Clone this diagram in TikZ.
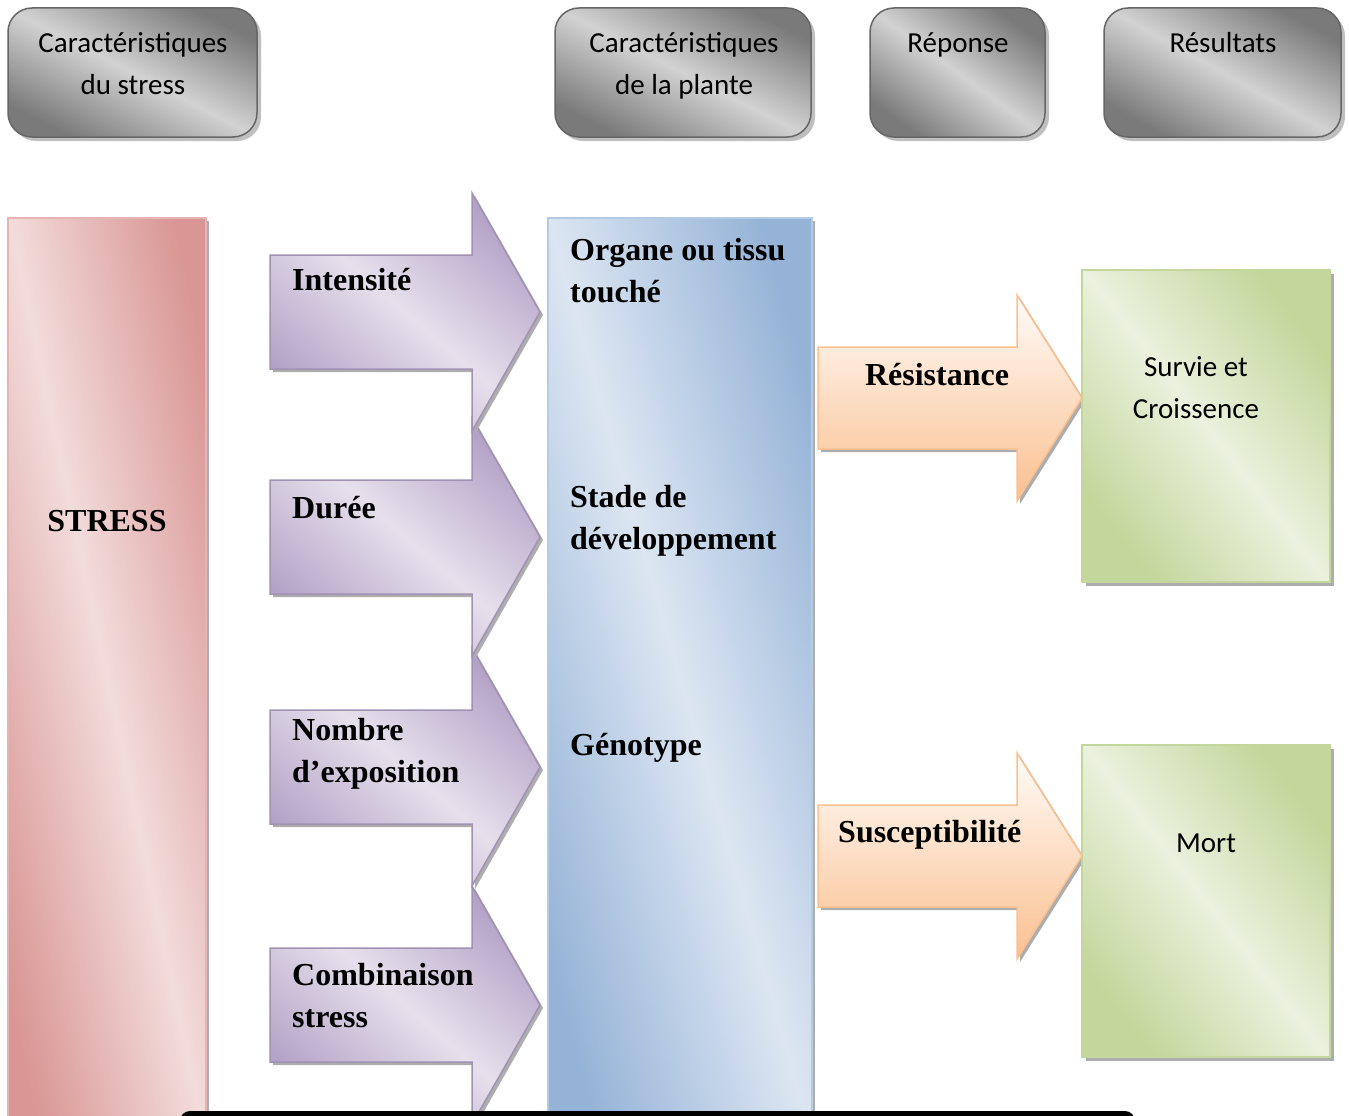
\documentclass[tikz,border=0pt]{standalone}
\usepackage{fontspec}
\setmainfont{Liberation Serif}
\newfontfamily\calibri{Carlito}
\usetikzlibrary{positioning}

\definecolor{grayD}{HTML}{7A7A7A}
\definecolor{grayL}{HTML}{D2D2D2}
\definecolor{pinkD}{HTML}{D99694}
\definecolor{pinkL}{HTML}{F2DCDB}
\definecolor{purpD}{HTML}{B3A2C7}
\definecolor{purpL}{HTML}{E6E0EC}
\definecolor{blueD}{HTML}{95B3D7}
\definecolor{blueL}{HTML}{DCE6F2}
\definecolor{orngD}{HTML}{FAC090}
\definecolor{orngL}{HTML}{FFFBF8}
\definecolor{grenD}{HTML}{C3D69B}
\definecolor{grenL}{HTML}{EBF1DE}

% dark - light - dark across the diagonal
\pgfdeclarehorizontalshading{grayshade}{100bp}{color(0bp)=(grayD); color(25bp)=(grayD); color(50bp)=(grayL); color(75bp)=(grayD); color(100bp)=(grayD)}
\pgfdeclarehorizontalshading{pinkshade}{100bp}{color(0bp)=(pinkD); color(25bp)=(pinkD); color(50bp)=(pinkL); color(75bp)=(pinkD); color(100bp)=(pinkD)}
\pgfdeclarehorizontalshading{purpshade}{100bp}{color(0bp)=(purpD); color(25bp)=(purpD); color(50bp)=(purpL); color(75bp)=(purpD); color(100bp)=(purpD)}
\pgfdeclarehorizontalshading{blueshade}{100bp}{color(0bp)=(blueD); color(25bp)=(blueD); color(50bp)=(blueL); color(75bp)=(blueD); color(100bp)=(blueD)}
\pgfdeclarehorizontalshading{grenshade}{100bp}{color(0bp)=(grenD); color(25bp)=(grenD); color(50bp)=(grenL); color(75bp)=(grenD); color(100bp)=(grenD)}

\begin{document}
\begin{tikzpicture}[x=1pt, y=-1pt,
    hdrbox/.style={draw=black!60, line width=1.5, rounded corners=24, shading=grayshade},
    hdrshadow/.style={fill=black!25, rounded corners=24},
    stressbox/.style={draw=pinkD!70, line width=1.5, shading=pinkshade, shading angle=12},
    purparrow/.style={draw=purpD!90!black, line width=1.5, shading=purpshade, shading angle=49},
    bluebox/.style={draw=blueD!70, line width=1.5, shading=blueshade, shading angle=16},
    orngarrow/.style={draw=orngD, line width=1.5, top color=orngL, bottom color=orngD},
    grenbox/.style={draw=grenD, line width=1.5, shading=grenshade, shading angle=38},
    boxshadow/.style={fill=black!32},
    hdrtext/.style={font=\calibri\fontsize{29}{42}\selectfont, align=center, inner sep=0},
    restext/.style={font=\calibri\fontsize{29}{42}\selectfont, align=center, inner sep=0},
    boldtext/.style={font=\fontsize{32}{42}\selectfont\bfseries, align=left, inner sep=0}
]
\useasboundingbox (0,0) rectangle (1349,1116);

% header boxes
\foreach \xa/\xb/\ang in {8/257/63, 555/811/63, 870/1045/54, 1104/1341/61} {
    \fill[hdrshadow] (\xa+4,12) rectangle (\xb+4,141);
    \shadedraw[hdrbox, shading angle=\ang] (\xa,8) rectangle (\xb,137);
}
\node[hdrtext] (tstress) at (133,64) {Caractéristiques\\du stress};
\node[hdrtext] (tplante) at (684,66) {Caractéristiques\\de la plante};
\node[hdrtext] (trep) at (958,45) {Réponse};
\node[hdrtext] (tres) at (1223,43) {Résultats};

% stress column
\fill[boxshadow] (11,221) rectangle (209,1140);
\shadedraw[stressbox] (8,218) rectangle (206,1140);
\node[boldtext] (stress) at (107,521) {STRESS};

% stress characteristics (bottom one first, so the upper heads lie on top)
\foreach \cy in {1005, 767, 537, 312} {
    \fill[boxshadow] (273,\cy-54) -- (475,\cy-54) -- (475,\cy-116) -- (543,\cy+3)
        -- (475,\cy+122) -- (475,\cy+60) -- (273,\cy+60) -- cycle;
    \shadedraw[purparrow] (270,\cy-57) -- (472,\cy-57) -- (472,\cy-119) -- (540,\cy)
        -- (472,\cy+119) -- (472,\cy+57) -- (270,\cy+57) -- cycle;
}
\node[boldtext, anchor=west] (intens) at (292,280) {Intensité};
\node[boldtext, anchor=west] (duree) at (292,508) {Durée};
\node[boldtext, anchor=west] (nombre) at (292,754) {Nombre\\d’exposition};
\node[boldtext, anchor=west] (combi) at (292,996) {Combinaison\\stress};

% plant column
\fill[boxshadow] (551,221) rectangle (815,1140);
\shadedraw[bluebox] (548,218) rectangle (812,1140);
\node[boldtext, anchor=west] (organe) at (570,271) {Organe ou tissu\\touché};
\node[boldtext, anchor=west] (stade) at (570,521) {Stade de\\développement};
\node[boldtext, anchor=west] (geno) at (570,748) {Génotype};

% response arrows
\foreach \cy in {398, 856} {
    \fill[boxshadow] (821,\cy-48) -- (1020,\cy-48) -- (1020,\cy-100) -- (1085,\cy+3)
        -- (1020,\cy+106) -- (1020,\cy+54) -- (821,\cy+54) -- cycle;
    \shadedraw[orngarrow] (818,\cy-51) -- (1017,\cy-51) -- (1017,\cy-103) -- (1082,\cy)
        -- (1017,\cy+103) -- (1017,\cy+51) -- (818,\cy+51) -- cycle;
}
\node[boldtext] (resist) at (937,375) {Résistance};
\node[boldtext, anchor=west] (suscept) at (838,835) {Susceptibilité};

% results
\foreach \ya/\yb in {270/582, 745/1057} {
    \fill[boxshadow] (1086,\ya+4) rectangle (1334,\yb+4);
    \shadedraw[grenbox] (1082,\ya) rectangle (1330,\yb);
}
\node[restext] (survie) at (1196,388) {Survie et\\Croissence};
\node[restext] (mort) at (1206,843) {Mort};

% black band at the bottom edge
\fill[black, rounded corners=10] (180,1111) rectangle (1135,1170);
\end{tikzpicture}
\end{document}
